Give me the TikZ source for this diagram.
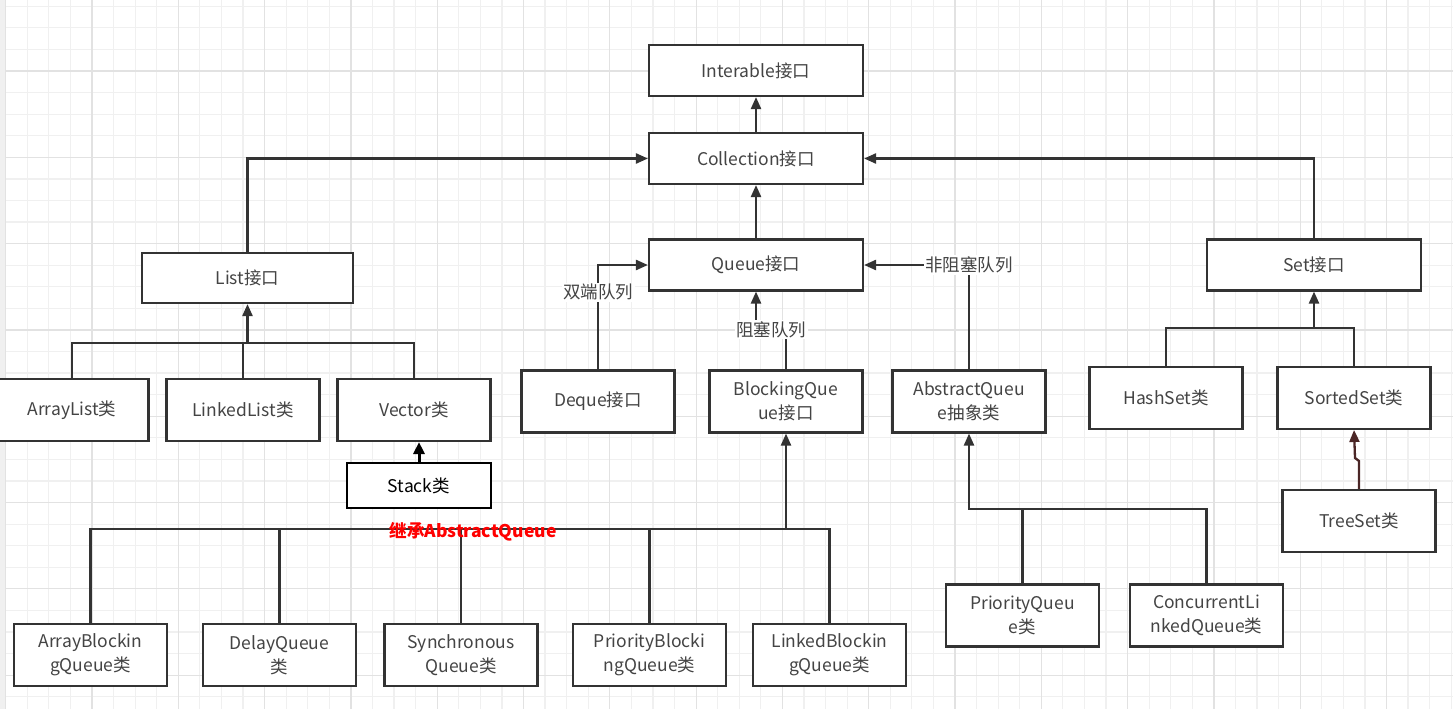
\documentclass[tikz,border=0pt]{standalone}
\usepackage{fontspec}
\setmainfont{Noto Sans CJK SC}
\usepackage{tikz}
\usetikzlibrary{arrows.meta}
\definecolor{linec}{RGB}{51,51,51}
\definecolor{txtc}{RGB}{68,68,68}
\definecolor{minorc}{RGB}{240,240,240}
\definecolor{majorc}{RGB}{226,226,226}
\definecolor{treec}{RGB}{75,38,38}
\tikzset{bx/.style={draw=linec, line width=2.1pt, fill=white, text=txtc, inner sep=0pt, align=center, font=\fontsize{17.5}{24}\selectfont, minimum width=153pt, minimum height=62pt}}
\tikzset{wbx/.style={bx, minimum width=214pt, minimum height=51pt}}
\tikzset{lbl/.style={fill=white, text=txtc, inner sep=1.5pt, font=\fontsize{17.5}{17.5}\selectfont}}
\tikzset{ln/.style={draw=linec, line width=2.3pt}}
\tikzset{arr/.style={ln, -{Triangle[length=12pt,width=10pt]}}}
\tikzset{sarr/.style={draw=black, line width=3pt, -{Triangle[length=12pt,width=11pt]}}}

\begin{document}
\begin{tikzpicture}[x=1pt, y=-1pt]
        \useasboundingbox (0,0) rectangle (1453,709);
        % grid
        \fill[minorc] (0,0) rectangle (6,709);
        \foreach \i in {0,...,67}
          \draw[minorc, line width=1.2pt] ({5.7+21.575*\i},0) -- ({5.7+21.575*\i},709);
        \foreach \j in {0,...,32}
          \draw[minorc, line width=1.2pt] (6,{6.3+21.575*\j}) -- (1453,{6.3+21.575*\j});
        \foreach \i in {0,...,16}
          \draw[majorc, line width=1.2pt] ({5.7+86.3*\i},0) -- ({5.7+86.3*\i},709);
        \foreach \j in {1,...,8}
          \draw[majorc, line width=1.2pt] (6,{-15.3+86.3*\j}) -- (1453,{-15.3+86.3*\j});

        % top
        \node[wbx] (itf) at (756,70.5) {Interable接口};
        \node[wbx] (coll) at (756,158.5) {Collection接口}
          edge [arr] (itf);
        \node[wbx] (queue) at (756,265) {Queue接口}
          edge [arr] (coll);
        \node[wbx] (set) at (1314,265) {Set接口};
        \node[wbx, minimum width=211pt, minimum height=50pt] (list) at (247.5,278) {List接口};

        % list
        \node[bx] (alist) at (72,410) {ArrayList类};
        \node[bx] (llist) at (243,410) {LinkedList类};
        \node[bx] (vec) at (414,410) {Vector类};
        \node[bx, draw=black, text=black, minimum width=144pt, minimum height=45pt] (stack) at (419,485.5) {Stack类};

        % queue
        \node[bx] (deque) at (598,401.5) {Deque接口};
        \node[bx] (bq) at (786,401.5) {BlockingQue\\ue接口};
        \node[bx] (aq) at (969,401.5) {AbstractQueu\\e抽象类};
        \node[bx] (abq) at (90.5,655) {ArrayBlockin\\gQueue类};
        \node[bx] (dq) at (279.5,655) {DelayQueue\\类};
        \node[bx] (sq) at (461,655) {Synchronous\\Queue类};
        \node[bx] (pbq) at (649.5,655) {PriorityBlocki\\ngQueue类};
        \node[bx] (lbq) at (829.5,655) {LinkedBlockin\\gQueue类};
        \node[bx] (pq) at (1022.5,615.5) {PriorityQueu\\e类};
        \node[bx] (clq) at (1206.5,615.5) {ConcurrentLi\\nkedQueue类};

        % set
        \node[bx] (hset) at (1166,398) {HashSet类};
        \node[bx] (sset) at (1354,398) {SortedSet类};
        \node[bx] (tset) at (1359,521) {TreeSet类};

        \coordinate (lbus) at (247.5,343);
        \coordinate (sbus) at (1314,328);
        \coordinate (bbus) at (786,529);
        \coordinate (abus) at (969,509);

        \draw[arr] (list.north) |- (coll.west);
        \draw[arr] (set.north) |- (coll.east);
        \draw[arr] (alist.north) |- (lbus) -- (list.south);
        \draw[ln] (llist.north) -- (llist.north |- lbus);
        \draw[ln] (vec.north) |- (lbus);
        \draw[sarr] (stack.north) -- (stack.north |- vec.south);

        \draw[arr] (deque.north) |- node[lbl, pos=0.37] {双端队列} (queue.west);
        \draw[arr] (bq.north) -- ++(0,-40) -| node[lbl, pos=0.25] {阻塞队列} (queue.south);
        \draw[arr] (aq.north) |- node[lbl, pos=0.5] {非阻塞队列} (queue.east);

        \draw[arr] (abq.north) |- (bbus) -- (bq.south);
        \draw[ln] (lbq.north) |- (bbus);
        \foreach \n in {dq,sq,pbq}
          \draw[ln] (\n.north) -- (\n.north |- bbus);
        \node[text=red, font=\fontsize{17.5}{17.5}\selectfont\bfseries] (inh) at (473,532) {继承AbstractQueue};

        \draw[arr] (pq.north) |- (abus) -- (aq.south);
        \draw[ln] (clq.north) |- (abus);

        \draw[arr] (hset.north) |- (sbus) -- (set.south);
        \draw[ln] (sset.north) |- (sbus);
        \draw[arr, draw=treec] (tset.north) -- ++(0,-28) -- ++(-4,-3) -- (sset.south);
      \end{tikzpicture}
\end{document}
